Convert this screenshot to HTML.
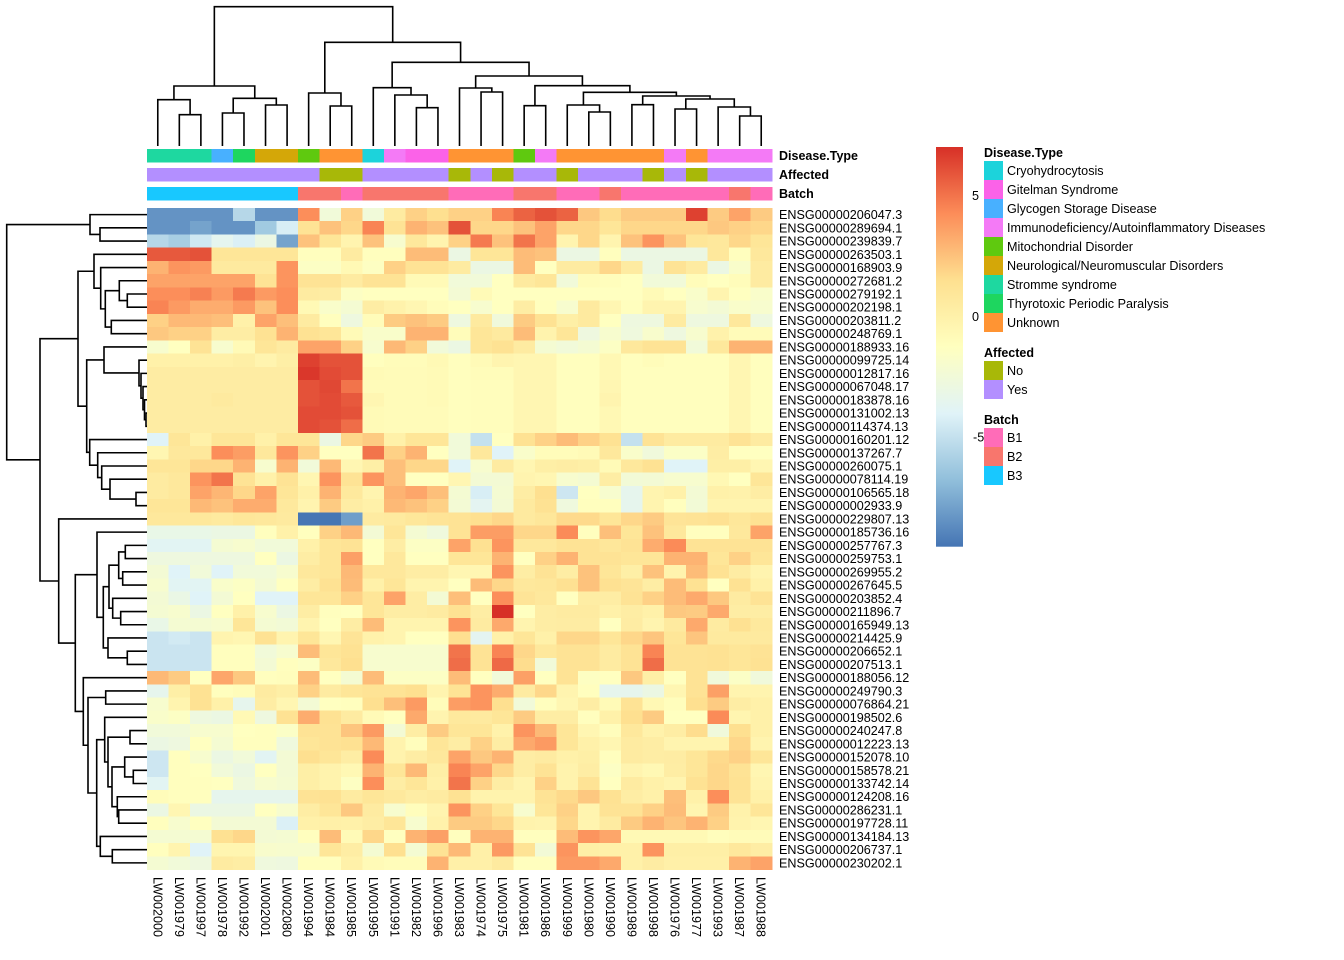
<!DOCTYPE html>
<html><head><meta charset="utf-8"><style>
html,body{margin:0;padding:0;background:#fff;}
svg{display:block;font-family:"Liberation Sans",Arial,sans-serif;}
</style></head><body>
<svg id="chart" width="1344" height="960" viewBox="0 0 1344 960" xmlns="http://www.w3.org/2000/svg"></svg>
<script>
const colLabels=["LW002000","LW001979","LW001997","LW001978","LW001992","LW002001","LW002080","LW001994","LW001984","LW001985","LW001995","LW001991","LW001982","LW001996","LW001983","LW001974","LW001975","LW001981","LW001986","LW001999","LW001980","LW001990","LW001989","LW001998","LW001976","LW001977","LW001993","LW001987","LW001988"];
const rowLabels=["ENSG00000206047.3","ENSG00000289694.1","ENSG00000239839.7","ENSG00000263503.1","ENSG00000168903.9","ENSG00000272681.2","ENSG00000279192.1","ENSG00000202198.1","ENSG00000203811.2","ENSG00000248769.1","ENSG00000188933.16","ENSG00000099725.14","ENSG00000012817.16","ENSG00000067048.17","ENSG00000183878.16","ENSG00000131002.13","ENSG00000114374.13","ENSG00000160201.12","ENSG00000137267.7","ENSG00000260075.1","ENSG00000078114.19","ENSG00000106565.18","ENSG00000002933.9","ENSG00000229807.13","ENSG00000185736.16","ENSG00000257767.3","ENSG00000259753.1","ENSG00000269955.2","ENSG00000267645.5","ENSG00000203852.4","ENSG00000211896.7","ENSG00000165949.13","ENSG00000214425.9","ENSG00000206652.1","ENSG00000207513.1","ENSG00000188056.12","ENSG00000249790.3","ENSG00000076864.21","ENSG00000198502.6","ENSG00000240247.8","ENSG00000012223.13","ENSG00000152078.10","ENSG00000158578.21","ENSG00000133742.14","ENSG00000124208.16","ENSG00000286231.1","ENSG00000197728.11","ENSG00000134184.13","ENSG00000206737.1","ENSG00000230202.1"];
const values=[
[-8.4,-8.4,-8.4,-8.4,-5.5,-8.4,-8.4,4.2,-2.5,2,-2.5,0.5,2,1.5,2,2,4.5,5.5,6,5.5,2.3,1.6,2.2,2.2,2.2,6.5,2.2,3.5,2.2],
[-8.4,-8.4,-7.8,-8.4,-8.4,-6.2,-4.3,1.2,2.5,1.8,4.5,1.2,3,2.5,6,1.8,1.8,2.5,3.5,1.8,1.8,1,1.8,1.8,1.8,1.8,2.3,2,1.8],
[-5.5,-6,-4.6,-3.6,-4.2,-3,-7.8,2.5,1,-0.3,2.5,-2,0.8,-0.3,2,4.8,2.5,5,3.5,-0.3,1.8,-0.3,2.5,4,2.5,1,0.8,1.8,1],
[5.8,5.8,6,1,1,1,1,-1.2,-1.2,0.5,-1.2,-1.2,2.7,2.7,-3,1,1,2.7,2.5,-3,-3,-1.2,-3,-3,-3,-3,0.8,-1.2,0.8],
[3,4,3.8,0.6,0.6,0.6,4,-1.5,-1.5,-0.7,-1.4,2,1.2,1.2,0.5,-3,-3,2.7,-1.3,0.5,0.5,1.8,0.5,-3,1.2,0.5,-3,-1.8,0.5],
[3.5,3.5,3.5,3.5,3.5,1.2,4,1.2,1.2,0.5,1.2,1.2,-0.8,-0.8,-2.5,-2.5,-1.3,0.6,1,-2.5,-1,-1.1,-1.3,-2.5,-2.5,-1,-1.3,-1,0.5],
[4.2,4.2,4.6,3.8,4.8,3.8,4.2,0.5,0.3,-1.5,-1.3,-1.3,-1.3,-1.3,-2.3,-0.8,-1.3,-1.3,-1.3,-1.3,-1.3,-1.3,-1.3,-0.8,-1.3,-1.8,-0.3,-1.3,-1.8],
[4.5,3.8,3.2,3.2,3.8,2.5,4.2,-0.7,-1.8,-2.2,0.3,-0.1,-0.5,-1,-1.3,-2,-1.3,0.3,-1.2,-2,0.6,-0.5,-1.2,-0.3,-0.3,-2,-2.3,-1.8,-2],
[2,2.8,2.8,2.6,0,3.5,2.6,0.5,-1.2,-2.8,-1,2.2,2.5,2.2,-2.8,0.6,-2.6,2.2,1.3,0.2,0.6,-1.3,-2.8,-2.8,0.5,-2.8,-2.8,0.8,-2.8],
[2.3,2,2,0.3,0.3,1.3,3,1.3,1,-0.8,-1.8,-1.8,3,3,-1,1,0.6,2.7,-0.2,1,-2.8,-2,-2.7,-1.9,-2.8,-2,-0.1,-0.9,-0.9],
[-2,-1.3,1.2,-2,-0.8,1,0.5,3.5,3.5,2,-2,2.8,2,-2.5,-3,1,1.3,0.5,-2.2,-2.5,-2.2,-1.5,0.8,1.2,1.2,-2.5,0.8,3,3],
[0,0,0,0,0.2,-0.3,0.2,6.5,6,6,-1.2,-1,-1,-0.7,-1.2,-0.8,-0.3,-0.5,-0.5,-1.2,-1.2,-0.6,-1.2,-1,-1.2,-1.2,-1.2,-0.5,-1.2],
[0.4,0.4,0.4,0.4,0.4,0.4,0.4,6.8,6.2,6,-0.8,-0.9,-0.9,-0.8,-1.2,-1,-1,-0.5,-0.5,-1.2,-1.2,-0.6,-1.2,-1.2,-1.2,-1.2,-1.2,-0.5,-1.2],
[0.4,0.4,0.4,0.4,0.4,0.4,0.4,6,6.3,5,-0.9,-0.9,-0.9,-0.8,-1.2,-1.1,-1.1,-0.5,-0.5,-1.2,-1.2,-0.5,-1.2,-1.2,-1.2,-1.2,-1.2,-0.5,-1.2],
[0.4,0.4,0.4,0.6,0.4,0.4,0.4,6,6.2,5.8,-0.5,-0.9,-0.9,-0.8,-1.2,-1.1,-1.1,-0.5,-0.5,-1.2,-1.2,-0.3,-1.2,-1.2,-1.2,-1.2,-1.2,-0.5,-1.2],
[0.4,0.4,0.4,0.4,0.4,0.4,0.4,6.2,6.2,6,-0.8,-0.9,-0.9,-0.9,-1.2,-1.1,-1.1,-0.5,-0.5,-1.2,-1.2,-0.6,-1.2,-1.2,-1.2,-1.2,-1.2,-0.5,-1.2],
[0.4,0.4,0.4,0.4,0.4,0.4,0.4,6.2,6,5.2,-0.8,-0.9,-0.9,-0.9,-1.2,-1.1,-1.1,-0.5,-0.5,-1.2,-1.2,-0.6,-1.2,-1.2,-1.2,-1.2,-1.2,-0.5,-1.2],
[-4,1,0,1,1,0,1,1,-3,1.8,2.2,0,1,1,-2.5,-5,-1.3,1.3,2,2.7,2,1.3,-5,1.2,0.5,0.5,0.5,1.2,0.5],
[-0.5,0.8,0.8,4.2,3.7,0.8,4,2,-1.3,-1.3,5,2,3,-1.3,-2.5,0.8,-4,-1.8,-1,-1,-0.8,0.8,-1.8,-2.6,-1.6,-1.6,0.3,-1.3,-1.3],
[1,1,1.8,1.8,3,-2,3,-2.5,2.8,-0.5,0.2,2.6,1.8,1.8,-4,-2,0.5,-0.5,0.2,0.3,0.2,-0.8,0.8,1.3,-4,-4,0.2,0.2,-0.5],
[0.5,0.8,4,5,1.2,0,1.2,-0.5,4,1.2,4,2.6,-1.3,-1.3,-0.5,-2.3,-2.3,-0.3,-0.5,-2,-2.2,0.3,-2.4,-2.3,-2,-2,-0.6,-1.3,1],
[0.5,0.8,3.5,2.9,1.8,3.5,1,0,3,0.7,-0.3,3,3.4,2.6,-2.2,-4.3,-2.2,0.3,1.5,-4.7,-1.3,-2,-3.5,-0.3,0,-2.3,0,-0.1,0.3],
[1,1,2.8,2.5,3.2,3.2,0.7,-0.3,2.2,0.3,0,2.8,2.5,2,-2.3,-3.7,-2.3,0.6,1.3,-2.7,-1.2,-1.2,-3.5,-0.3,-1.2,-2.4,-0.3,-0.3,-0.3],
[0.8,0.8,0.8,0.6,0.9,0.8,0.6,-9.5,-9.5,-8,0.5,0.6,0.9,1.1,1.2,1.5,1.8,0.6,0.9,1.7,1.7,1,1.8,2.2,1.1,1.2,1.4,0.9,1.3],
[-3.2,-3.2,-3.2,-3,-3,-1.2,0,-1.2,2,2.8,-2.3,1,-2.2,-2.7,1.2,3.7,3.7,1.8,1.8,4.3,-1.2,2.6,1,2.5,0.8,-1.2,-1.2,0.8,3.5],
[-3.8,-3.8,-3.8,-2.2,-2,-2.5,-2.5,0,1,1.2,-1.3,0.3,-1.5,-1.5,3.5,1.4,4,0.8,0.8,1.2,1.2,0.9,1.2,3.2,4.3,1.2,1.2,1.2,1.2],
[-2.8,-2.8,-2.8,-2.8,-2.8,-1.3,-3,0.3,1,3.6,-1.3,0.8,-1.3,-1.3,1,1,3,-1.3,2,3,1.2,1.2,1,1,3,3,1,2,1],
[-2.3,-4,-2.5,-4,-2.5,-2.5,-2,0.8,1,2.8,0.8,0.8,0.3,0.3,-0.5,-0.5,4,0.3,1.2,0.3,2.5,1,0.2,2.5,-0.2,2.7,1.3,0.4,-0.3],
[-2,-3.8,-3.8,-1.8,-1.5,-2.3,-1.3,0.3,1.3,2.7,0,1,-0.3,-0.3,-1.3,2.7,1.8,0.8,0.9,1.4,2.5,1.4,1.1,0.3,2.7,1.3,-1.3,1.3,0],
[-2.3,-3.1,-4,-2.3,-1.3,-4,-4,1,1,2,1,3.5,0.3,-2.3,2.6,-1.3,4.2,1.1,0.8,-1.3,0.3,0.3,1.2,2,2.7,3.3,2.3,0.5,1.2],
[-2.2,-2,-3,-1.3,0,-2,-3,0.3,-1.2,-1.3,1,0.3,0.3,0.5,1.3,0.3,7,-1.3,0.3,0.5,0.5,0,0.3,0,2.3,2.2,3.3,0.3,0.3],
[-3.2,-2.2,-2.2,-2,1,-2.2,-2.4,-0.3,-1.3,0.3,2.7,-0.3,-0.3,-0.3,4,0.5,3.3,-0.3,0.3,0.4,0.4,-1.3,0.4,-0.3,0.6,3.3,0.5,1.4,0.7],
[-4.8,-4.5,-4.8,-0.3,-0.5,1.3,-0.3,1,-0.5,1.1,-0.1,-0.3,-1.3,-1.3,1.5,-3.7,0,1,0,1.8,1.8,1,1.8,2.4,1,2.4,0.6,0.6,0.6],
[-4.8,-4.8,-4.8,-1.2,-1.2,-2.5,-2,2.7,1,1.3,-2,-2,-2,-2,5,1.2,4.5,1.8,0.8,1.2,1.2,0.5,1.2,4.5,1.2,1.2,1.3,1,1.2],
[-4.8,-4.8,-4.8,-1.2,-1.2,-2.3,-1.2,-1.5,0.8,1.5,-2,-2,-2,-2,5.2,1.2,5.3,1.6,-2.5,1.2,1.2,0.5,1.2,5.2,1.2,1.2,1.3,1,1.3],
[2.8,2.2,-1.3,3.4,2.3,-1.2,-1.1,2.7,-1.3,-2.2,2.7,-1.5,-1.5,-1.5,2.7,-1.3,-2.5,3.6,-1.3,1.2,-1.4,-1.3,2.3,0.2,-1.3,1.2,-2.6,-1.6,-2.6],
[-3.5,0.2,1.3,-1.2,-1,0.5,0.2,2,0.5,1,1.2,1.2,1.5,-0.3,1.2,4,3.2,0.5,1.8,-0.3,-1.2,-3.5,-3.5,-3,-0.5,1.2,3.6,-0.3,-0.3],
[-2,-0.3,1.3,0,-3.5,0.3,-0.5,-2.3,-1.3,-1.2,1.5,2.6,3.8,-1,3.7,4,1.5,-2.5,-1.2,-0.5,0.3,-0.8,1.2,-0.6,-1.1,1.5,2.2,0.3,0],
[-1.8,-1.5,-2.8,-3,-0.7,-2.8,1.3,3.2,1.3,0.5,-0.8,-1.3,3.3,-0.3,0.7,0.6,1,2.2,0.3,0.3,-1.2,0,1.5,2.2,-1.3,-1.3,4.3,-0.4,0],
[-2.5,-2.5,-2,-2,-1.3,-1.2,-1.6,1.2,1.2,2.4,3.8,-2.3,0.3,2.2,1,1,-0.1,4,2.8,1,-0.5,-1.1,0.8,-0.1,0.3,1.6,-2.6,1.5,0],
[-3,-2.8,-1.3,-2.2,-1.2,-1.2,-2.7,1,1.2,1.4,2.8,-0.2,-1.1,1,0.3,2,0.3,3.3,3.8,1,0,-0.5,0.5,0.3,-0.3,-0.3,-0.3,1.8,-0.3],
[-4.7,-1.2,-2,-3,-2.5,-3.8,-2.3,1.5,1,0.3,4.3,-0.2,0.3,0.8,3.5,2.3,3,0.3,0.5,0,0.2,-1.2,0.5,0.3,0.4,1,1.7,2,1],
[-4.7,-1.2,-1.3,-2.5,-3,-1.3,-2.3,0.2,-0.2,-0.6,3,1,2.8,0.2,4.5,3.5,1.8,0.3,1.2,-0.2,0.3,-1.5,-0.3,-0.6,0.3,1,1.8,1.2,-0.5],
[-3.8,-1.2,-1.2,-1.3,-2.7,-2,-2.2,0.2,-0.2,-1.4,4.2,0.3,1,0,5,2,0.3,-0.3,2,-0.2,1.2,-1.3,0.5,0,-0.3,1.3,1.8,1.3,-0.3],
[-1,-1.2,-1.2,-3.5,-3.5,-3.5,-3.5,1.2,1.3,0.5,1,0.7,0.3,0.5,1.3,-0.2,-0.2,-0.2,1.2,1.7,2.3,1.3,0.3,0,2.6,0,4.2,1.2,0],
[-3,-0.5,-3,-3,-3,-1.3,-2,0.3,1,2.3,0.5,-2,-1.1,-0.3,4,2,1,-2,1,2,-0.3,1.2,1.2,2,2.7,-0.4,2.2,-0.1,1],
[-1.2,-2,-1.3,-2.3,-2.3,-2.3,-4.2,0,0.1,0,0.3,1,-2,-0.1,2.2,2.2,1.8,-0.2,-0.3,1.8,-0.3,0.5,2.2,3,2.4,3,2,-0.2,-0.5],
[-2.2,-2.2,-2.2,1.4,1.8,-2.3,-2.2,-1.2,2.7,-0.8,1.8,-1.3,3,3.6,-1.2,3,3,-1.2,-1.2,2.7,4,3.4,-0.7,-0.7,-0.7,-0.7,-1.1,-0.9,-0.9],
[-1.2,-0.3,-4,-0.4,-0.4,-1.9,-2,-2,1,0.3,-2.2,1.5,-2.2,1.2,2.8,0.1,3.8,1.2,-2.4,4,0.2,0,0,4,0.2,0.2,0.2,0.8,0.3],
[-2.2,-2.5,-2.8,0.5,0.3,-2.7,-2.8,-1.2,-1.2,0,-0.8,-1,-1,3,0.1,0.1,0.6,-1.2,-1.2,3.8,3.8,3.3,0,0.4,0.1,0.1,0.1,3,3.5]
];
const diseaseType=["Stromme syndrome","Stromme syndrome","Stromme syndrome","Glycogen Storage Disease","Thyrotoxic Periodic Paralysis","Neurological/Neuromuscular Disorders","Neurological/Neuromuscular Disorders","Mitochondrial Disorder","Unknown","Unknown","Cryohydrocytosis","Immunodeficiency/Autoinflammatory Diseases","Gitelman Syndrome","Gitelman Syndrome","Unknown","Unknown","Unknown","Mitochondrial Disorder","Immunodeficiency/Autoinflammatory Diseases","Unknown","Unknown","Unknown","Unknown","Unknown","Immunodeficiency/Autoinflammatory Diseases","Unknown","Immunodeficiency/Autoinflammatory Diseases","Immunodeficiency/Autoinflammatory Diseases","Immunodeficiency/Autoinflammatory Diseases"];
const affected=["Yes","Yes","Yes","Yes","Yes","Yes","Yes","Yes","No","No","Yes","Yes","Yes","Yes","No","Yes","No","Yes","Yes","No","Yes","Yes","Yes","No","Yes","No","Yes","Yes","Yes"];
const batch=["B3","B3","B3","B3","B3","B3","B3","B2","B2","B1","B2","B2","B2","B2","B1","B1","B1","B2","B2","B1","B1","B2","B1","B1","B1","B1","B1","B2","B1"];
const diseaseLevels=["Cryohydrocytosis","Gitelman Syndrome","Glycogen Storage Disease","Immunodeficiency/Autoinflammatory Diseases","Mitochondrial Disorder","Neurological/Neuromuscular Disorders","Stromme syndrome","Thyrotoxic Periodic Paralysis","Unknown"];
const diseaseColors=["#1CD3DB","#FB62E8","#48B0FF","#F47AF6","#5FC90F","#D4A708","#1ED8A0","#1ED65F","#FF9433"];
const affectedLevels=["No","Yes"];
const affectedColors=["#A8B808","#B38FFF"];
const batchLevels=["B1","B2","B3"];
const batchColors=["#FF6CB8","#F8766D","#18C8FF"];
const colorTicks=[5,0,-5];
const vMin=-9.53, vMax=7.0;
const colTree=[6.7,[86,[99.7,0,[114.7,1,2]],[98.3,[113,3,4],[105,5,6]]],[42.3,[93,7,[106,8,9]],[62.3,[87.7,10,[95,11,[107.7,12,13]]],[76,[88,14,[92,15,16]],[85.7,[105.7,17,18],[92.3,[105,19,[112,20,21]],[96,[104.7,22,23],[99,[109,24,25],[107,26,[116,27,28]]]]]]]]]];
const rowTree=[6.7,[90,0,[100,1,2]],[40,
 [78,[94,3,[100.7,4,[105.3,[119.3,5,[127.3,6,7]],[111.3,8,9]]]],
     [86.7,[104,10,[139,11,[141,12,[143,13,[144.5,14,[146,15,16]]]]]],
           [89.7,17,[97.7,18,[101.7,19,[110,20,[136,21,22]]]]]]],
 [58.7,23,[75.3,
   [97,24,[103.3,[109,[118.7,[125.3,25,26],[122.7,27,28]],[112.7,29,[120.7,30,31]]],[108,32,[127.3,33,34]]]],
   [83.3,35,[88,[105.7,36,37],[96.7,[104.7,38,[108,[130,39,40],[112,[124.7,41,[133.3,42,43]],[117.3,44,[118.7,45,46]]]]],[100.3,47,[112.3,48,49]]]]]]]]];

const NS="http://www.w3.org/2000/svg";
const svg=document.getElementById('chart');
const X0=147, CW=625/29, Y0=208, RH=661.5/50;
const xScale=i=>X0+CW*i;
const yScale=i=>Y0+RH*i;
const pal=[[69,117,180],[145,191,219],[224,243,248],[255,255,191],[254,224,144],[252,141,89],[215,48,39]];
function colorOf(v){
  let t=(v-vMin)/(vMax-vMin); t=Math.max(0,Math.min(1,t))*6;
  let i=Math.min(5,Math.floor(t)), f=t-i;
  const c=pal[i].map((a,k)=>Math.round(a+(pal[i+1][k]-a)*f));
  return `rgb(${c[0]},${c[1]},${c[2]})`;
}
function mk(tag,attrs,parent){const e=document.createElementNS(NS,tag);for(const k in attrs)e.setAttribute(k,attrs[k]);(parent||svg).appendChild(e);return e;}

const gCells=mk('g',{'shape-rendering':'crispEdges'});


values.forEach((row,r)=>row.forEach((v,c)=>{
  const x=xScale(c), y=yScale(r);
  const rect=mk('rect',{x:x.toFixed(2),y:y.toFixed(2),width:(CW+0.6).toFixed(2),height:(RH+0.6).toFixed(2),fill:colorOf(v)},gCells);
  
  
}));

const tracks=[[diseaseType,diseaseLevels,diseaseColors,149,'Disease.Type','disease-type-track'],[affected,affectedLevels,affectedColors,168,'Affected','affected-track'],[batch,batchLevels,batchColors,187,'Batch','batch-track']];
tracks.forEach(tr=>{
  const g=mk('g',{'shape-rendering':'crispEdges'});
  
  
  tr[0].forEach((lv,c)=>{
    const r=mk('rect',{x:xScale(c).toFixed(2),y:tr[3],width:(CW+0.6).toFixed(2),height:13.4,fill:tr[2][tr[1].indexOf(lv)]},g);
    
    
  });
  const t=mk('text',{x:779,y:tr[3]+11,'font-size':'12.5','font-weight':'bold',fill:'#000'});
  t.textContent=tr[4];
  
  
});

rowLabels.forEach((l,r)=>{
  const t=mk('text',{x:779,y:(yScale(r)+RH/2+4.5).toFixed(2),'font-size':'12.6',fill:'#000'});
  t.textContent=l;
  
  
});
colLabels.forEach((l,c)=>{
  const cx=xScale(c)+CW/2-4.5;
  const t=mk('text',{x:0,y:0,'font-size':'12.6',fill:'#000',transform:`translate(${cx.toFixed(2)},877) rotate(90)`});
  t.textContent=l;
  
  
});

const colDend=mk('g',{stroke:'#000','stroke-width':'1.6',fill:'none'});


function drawCol(n){
  if(typeof n==='number') return {p:xScale(n)+CW/2,h:146};
  const a=drawCol(n[1]), b=drawCol(n[2]), h=n[0];
  const p=mk('path',{d:`M${a.p.toFixed(2)},${a.h}V${h}H${b.p.toFixed(2)}V${b.h}`},colDend);
  
  
  return {p:(a.p+b.p)/2,h:h};
}
drawCol(colTree);
const rowDend=mk('g',{stroke:'#000','stroke-width':'1.6',fill:'none'});


function drawRow(n){
  if(typeof n==='number') return {p:yScale(n)+RH/2,h:147};
  const a=drawRow(n[1]), b=drawRow(n[2]), h=n[0];
  const p=mk('path',{d:`M${a.h},${a.p.toFixed(2)}H${h}V${b.p.toFixed(2)}H${b.h}`},rowDend);
  
  
  return {p:(a.p+b.p)/2,h:h};
}
drawRow(rowTree);

const defs=mk('defs',{});
const grad=mk('linearGradient',{id:'cbar',x1:0,y1:1,x2:0,y2:0},defs);
pal.forEach((c,i)=>mk('stop',{offset:(i/6).toFixed(3),'stop-color':`rgb(${c.join(',')})`},grad));
const cbTop=147, cbBot=546.7;
const cb=mk('rect',{x:936,y:cbTop,width:27,height:cbBot-cbTop,fill:'url(#cbar)'});


const cbY=v=>cbBot-(v-vMin)/(vMax-vMin)*(cbBot-cbTop);
colorTicks.forEach(v=>{
  const t=mk('text',{x:v<0?973:972,y:(cbY(v)+4.5).toFixed(2),'font-size':'12.6',fill:'#000'});
  t.textContent=String(v);
  
  
});

function legend(title,levels,colors,y0,name){
  const g=mk('g',{});
  
  
  const t=mk('text',{x:984,y:y0,'font-size':'12.5','font-weight':'bold',fill:'#000'},g);
  t.textContent=title;
  
  
  levels.forEach((lv,i)=>{
    const y=y0+4+19*i;
    const r=mk('rect',{x:984,y:y,width:19,height:19,fill:colors[i]},g);
    
    
    const tx=mk('text',{x:1007,y:y+14,'font-size':'12.6',fill:'#000'},g);
    tx.textContent=lv;
    
    
  });
}
legend('Disease.Type',diseaseLevels,diseaseColors,157,'disease-type-legend');
legend('Affected',affectedLevels,affectedColors,357,'affected-legend');
legend('Batch',batchLevels,batchColors,424,'batch-legend');
</script>
</body></html>
